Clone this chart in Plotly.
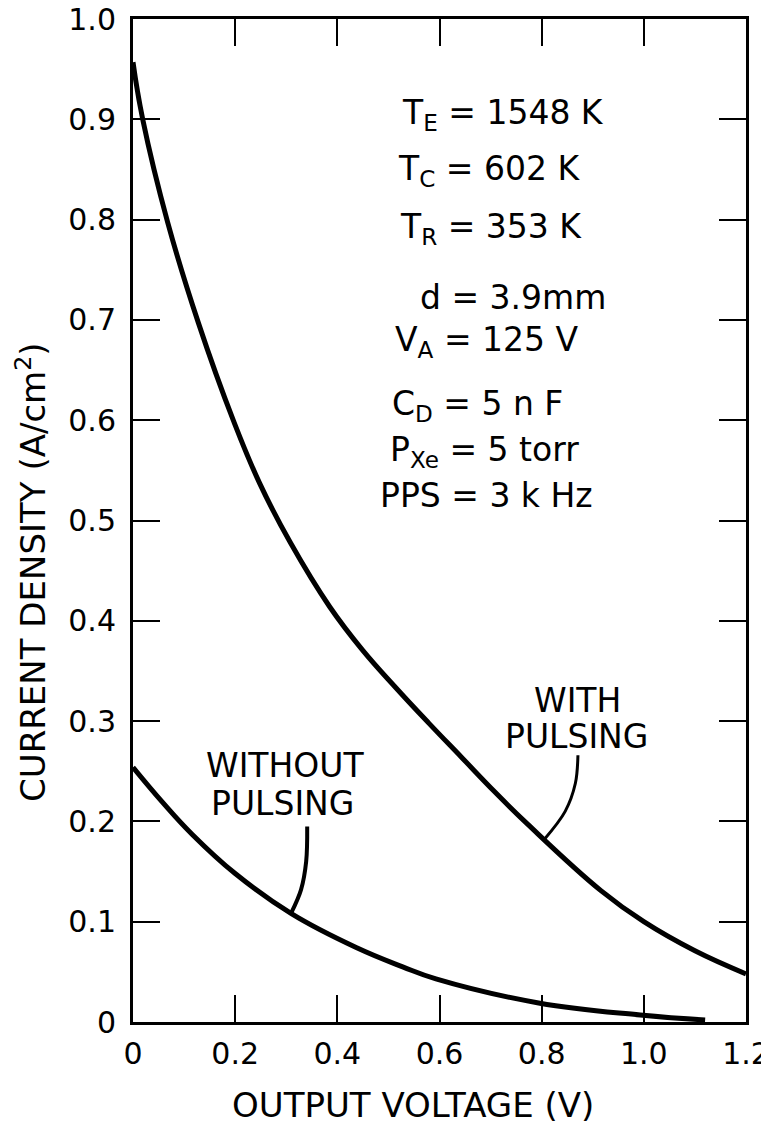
import plotly.graph_objects as go

# current density vs output voltage
v_with = [0.0, 0.019, 0.068, 0.128, 0.197, 0.248, 0.308, 0.385, 0.449, 0.515, 0.579, 0.643, 0.709, 0.773,
          0.916, 1.0, 1.1, 1.2]
j_with = [0.957, 0.90, 0.797, 0.697, 0.599, 0.537, 0.478, 0.414, 0.371, 0.333, 0.298, 0.264, 0.229, 0.197,
          0.131, 0.100, 0.071, 0.048]

v_without = [0.0, 0.058, 0.116, 0.20, 0.31, 0.438, 0.528, 0.593, 0.794, 0.993, 1.12]
j_without = [0.254, 0.219, 0.187, 0.148, 0.108, 0.074, 0.055, 0.043, 0.019, 0.007, 0.002]

# leader lines from the curve labels to the curves
lead_with_v = [0.871, 0.866, 0.846, 0.805]
lead_with_j = [0.266, 0.238, 0.210, 0.182]
lead_without_v = [0.341, 0.339, 0.329, 0.31]
lead_without_j = [0.195, 0.160, 0.132, 0.109]

x_ticks = [0, 0.2, 0.4, 0.6, 0.8, 1.0, 1.2]
x_ticklabels = ['0', '0.2', '0.4', '0.6', '0.8', '1.0', '1.2']
y_ticks = [0, 0.1, 0.2, 0.3, 0.4, 0.5, 0.6, 0.7, 0.8, 0.9, 1.0]
y_ticklabels = ['0', '0.1', '0.2', '0.3', '0.4', '0.5', '0.6', '0.7', '0.8', '0.9', '1.0']

params = ['T<sub>E</sub> = 1548 K', 'T<sub>C</sub> = 602 K', 'T<sub>R</sub> = 353 K', 'd = 3.9mm',
          'V<sub>A</sub> = 125 V', 'C<sub>D</sub> = 5 n F', 'P<sub>Xe</sub> = 5 torr', 'PPS = 3 k Hz']

W, H = 769, 1132
OFF = 8  # page body margin
L, R, T, B = 125, 31, 11, 118
FONT = 'DejaVu Sans'


def px2x(px):
    return (px - OFF - L) / (W - L - R) * 1.2


def py2y(py):
    return (H - B - (py - OFF)) / (H - B - T)


fig = go.Figure()
fig.add_trace(go.Scatter(x=v_with, y=j_with, mode='lines', line=dict(color='black', width=5, shape='spline', smoothing=1.2)))
fig.add_trace(go.Scatter(x=v_without, y=j_without, mode='lines', line=dict(color='black', width=5, shape='spline', smoothing=1.2)))
fig.add_trace(go.Scatter(x=lead_with_v, y=lead_with_j, mode='lines', line=dict(color='black', width=3, shape='spline')))
fig.add_trace(go.Scatter(x=lead_without_v, y=lead_without_j, mode='lines', line=dict(color='black', width=4, shape='spline')))

axis_style = dict(showgrid=False, zeroline=False, showline=True, linewidth=3, linecolor='black',
                  mirror='ticks', ticks='inside', ticklen=27, tickwidth=2, tickcolor='black', automargin=False,
                  ticklabeloverflow='allow', tickfont=dict(family=FONT, size=30, color='black'))

fig.update_layout(width=W, height=H, margin=dict(l=L, r=R, t=T, b=B, autoexpand=False),
                  paper_bgcolor='white', plot_bgcolor='white', showlegend=False,
                  font=dict(family=FONT, color='black'))
fig.update_xaxes(range=[0, 1.2], tickvals=x_ticks, ticktext=x_ticklabels, ticklabelstandoff=3, **axis_style)
fig.update_yaxes(range=[0, 1.0], tickvals=y_ticks, ticktext=y_ticklabels, ticklabelstandoff=8, **axis_style)

# parameter block
left_px = [400, 396, 398, 418, 393, 390, 388, 378]
mid_py = [114, 170, 228, 297, 341, 405, 451, 495]
for txt, lx, my in zip(params, left_px, mid_py):
    fig.add_annotation(x=px2x(lx), y=py2y(my), text=txt, showarrow=False, xanchor='left', yanchor='middle',
                       font=dict(family=FONT, size=33, color='black'))

# curve labels, one line each
curve_labels = ['WITH', 'PULSING', 'WITHOUT', 'PULSING']
label_px = [(577, 700), (576, 736), (285, 765), (282, 803)]
for txt, (lx, ly) in zip(curve_labels, label_px):
    fig.add_annotation(x=px2x(lx), y=py2y(ly), text=txt, showarrow=False, borderpad=0,
                       font=dict(family=FONT, size=33, color='black'))

# axis titles
fig.add_annotation(x=px2x(413), yref='paper', y=py2y(1105), yanchor='middle',
                   text='OUTPUT VOLTAGE (V)', showarrow=False, font=dict(family=FONT, size=34, color='black'))
fig.add_annotation(xref='paper', x=(31 - OFF - L) / (W - L - R), xanchor='center', y=py2y(572),
                   text='CURRENT DENSITY (A/cm<sup>2</sup>)', showarrow=False, textangle=-90,
                   font=dict(family=FONT, size=34, color='black'))

fig.write_html('out.html')
